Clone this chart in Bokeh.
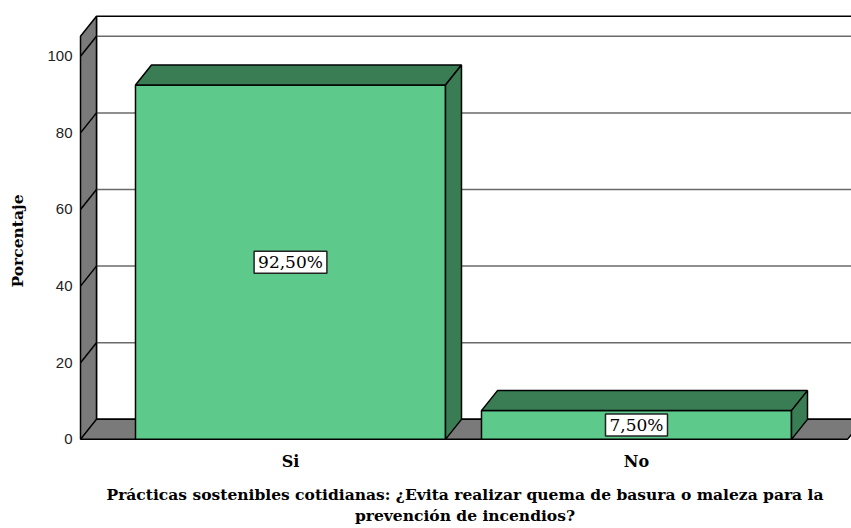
from bokeh.plotting import figure
from bokeh.models import ColumnDataSource, LinearAxis, FixedTicker, Range1d
from bokeh.embed import file_html
from bokeh.resources import INLINE
from bokeh.core.properties import value

# ---------------- data ----------------
categories = ["Si", "No"]
percentages = [92.5, 7.5]
pct_labels = ["92,50%", "7,50%"]
y_ticks = [0, 20, 40, 60, 80, 100]
y_title = "Porcentaje"
x_title = ("Prácticas sostenibles cotidianas: ¿Evita realizar quema de basura o maleza para la\n"
           "prevención de incendios?")

# ---------------- layout / style ----------------
W, H = 851, 528
x_pos = [i + 1 for i in range(len(categories))]
BAR_W = 0.896
DX, DY = 0.0462, 5.22          # 3D depth offset (x units, y units)
X_START, X_END = 0.3873, 2.6214
Y_START, Y_END = -0.3, 110.9
WALL_X0, WALL_X1 = 0.3931, 2.6098
WALL_TOP = 105.2

FRONT = "#5DCA8B"
DARK = "#3A7D54"
GRAY = "#7A7A7A"
SERIF = "DejaVu Serif"

p = figure(width=W, height=H, x_range=Range1d(X_START, X_END),
           y_range=Range1d(Y_START, Y_END), output_backend="svg",
           toolbar_location=None, x_axis_type=None, y_axis_type=None,
           min_border_left=78, min_border_right=0, min_border_top=14,
           min_border_bottom=88)
p.outline_line_color = None
p.xgrid.visible = False
p.ygrid.visible = False

FAR = X_END + 1.0
# back wall
p.patch([WALL_X0 + DX, WALL_X0 + DX, FAR, FAR], [DY, WALL_TOP + DY, WALL_TOP + DY, DY],
        fill_color="white", line_color="black", line_width=1.5)
# gridlines on back wall
gt = y_ticks[1:]
p.segment(x0=[WALL_X0 + DX] * len(gt), y0=[t + DY for t in gt],
          x1=[FAR] * len(gt), y1=[t + DY for t in gt],
          line_color="#6A6A6A", line_width=1.5)
# left wall
p.patch([WALL_X0, WALL_X0, WALL_X0 + DX, WALL_X0 + DX], [0, WALL_TOP, WALL_TOP + DY, DY],
        fill_color=GRAY, line_color="black", line_width=1.5)
p.segment(x0=[WALL_X0] * len(gt), y0=gt, x1=[WALL_X0 + DX] * len(gt),
          y1=[t + DY for t in gt], line_color="black", line_width=1.5)
# floor
p.patch([WALL_X0, WALL_X1, WALL_X1 + DX, WALL_X0 + DX], [0, 0, DY, DY],
        fill_color=GRAY, line_color="black", line_width=1.5)

# bars
lefts = [x - BAR_W / 2 for x in x_pos]
rights = [x + BAR_W / 2 for x in x_pos]
p.quad(left=lefts, right=rights, bottom=[0] * len(x_pos), top=percentages,
       fill_color=FRONT, line_color="black", line_width=1.5)
top_xs = [[l, r, r + DX, l + DX] for l, r in zip(lefts, rights)]
top_ys = [[v, v, v + DY, v + DY] for v in percentages]
p.patches(top_xs, top_ys, fill_color=DARK, line_color="black", line_width=1.5)
side_xs = [[r, r, r + DX, r + DX] for r in rights]
side_ys = [[0, v, v + DY, DY] for v in percentages]
p.patches(side_xs, side_ys, fill_color=DARK, line_color="black", line_width=1.5)

# value labels
src = ColumnDataSource(dict(x=x_pos, y=[v / 2 for v in percentages], t=pct_labels))
p.text(x="x", y="y", text="t", source=src, text_align="center",
       text_baseline="middle", text_font=value(SERIF), text_font_size="17px",
       text_color="black", background_fill_color="white",
       border_line_color="#222222", border_line_width=1.5, padding=(4, 1))

# axes
ya = LinearAxis(ticker=FixedTicker(ticks=y_ticks))
ya.axis_line_color = None
ya.major_tick_line_color = None
ya.minor_tick_line_color = None
ya.major_tick_out = 0
ya.major_tick_in = 0
ya.major_label_standoff = 6
ya.major_label_text_font = "Liberation Sans"
ya.major_label_text_font_size = "15px"
ya.major_label_text_color = "#222222"
# trailing no-break spaces lower the visible title to the middle of the front axis
ya.axis_label = y_title + "\u00a0" * 5
ya.axis_label_text_font = SERIF
ya.axis_label_text_font_style = "bold"
ya.axis_label_text_font_size = "15.5px"
ya.axis_label_standoff = 17
ya.axis_label_text_color = "black"
p.add_layout(ya, "left")

xa = LinearAxis(ticker=FixedTicker(ticks=x_pos),
                major_label_overrides={x: c for x, c in zip(x_pos, categories)})
xa.axis_line_color = None
xa.major_tick_line_color = None
xa.minor_tick_line_color = None
xa.major_tick_out = 0
xa.major_tick_in = 0
xa.major_label_standoff = 11
xa.major_label_text_font = SERIF
xa.major_label_text_font_style = "bold"
xa.major_label_text_font_size = "16px"
xa.major_label_text_color = "black"
xa.axis_label = x_title
xa.axis_label_text_font = SERIF
xa.axis_label_text_font_style = "bold"
xa.axis_label_text_font_size = "15.5px"
xa.axis_label_text_line_height = 1.15
xa.axis_label_standoff = 11
xa.axis_label_text_color = "black"
p.add_layout(xa, "below")

open("out.html", "w").write(file_html(p, INLINE))
